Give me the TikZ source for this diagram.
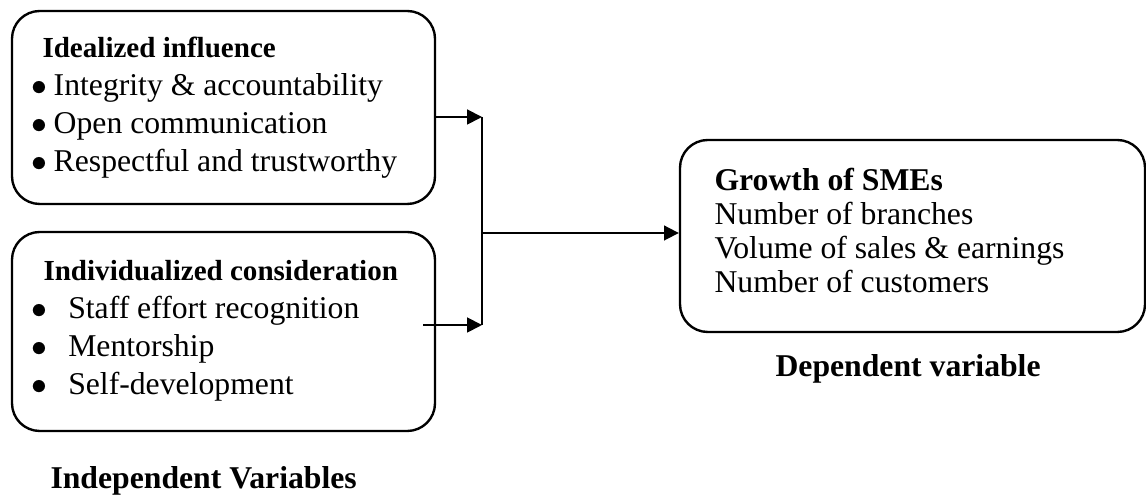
\documentclass[tikz,border=0pt]{standalone}
\usepackage{fontspec}
\setmainfont{Liberation Serif}
\usetikzlibrary{arrows.meta,positioning,fit,calc}
\tikzset{
  varbox/.style ={draw, line width=0.9pt, rounded corners=10.5pt, inner sep=0pt},
  headtxt/.style={anchor=base west, inner sep=0pt, font=\fontsize{11}{13}\selectfont\bfseries},
  itemtxt/.style={anchor=base west, inner sep=0pt, font=\fontsize{12}{14}\selectfont},
  labtxt/.style ={anchor=base west, inner sep=0pt, font=\fontsize{12}{14}\selectfont\bfseries},
  arr/.style    ={-{Triangle[length=5.6pt,width=5.6pt]}, line width=0.7pt},
}
\newcommand\blt[1]{\makebox[#1][l]{$\bullet$}}

\begin{document}
\begin{tikzpicture}[x=0.3785pt,y=-0.3785pt]
  \useasboundingbox (0,0) rectangle (1146,495);
  %% boxes
  \node[varbox, fit={(12,11) (435,204)}] (idbox) {};
  \node[varbox, fit={(12,232) (435,431)}] (icbox) {};
  \node[varbox, fit={(680,140) (1145,332)}] (gbox) {};
  %% idealized influence
  \node[headtxt] (idhead) at (42,58) {Idealized influence};
  \foreach \t [count=\i] in {Integrity \& accountability, Open communication,
                             Respectful and trustworthy}
    \node[itemtxt] (iditem\i) at (31,{58+38*\i}) {\blt{8.4pt}\t};
  %% individualized consideration
  \node[headtxt] (ichead) at (43,281) {Individualized consideration};
  \foreach \t [count=\i] in {Staff effort recognition, Mentorship, Self-development}
    \node[itemtxt] (icitem\i) at (31,{281+38*\i}) {\blt{13.9pt}\t};
  %% growth of SMEs
  \node[labtxt] (ghead) at (714,191) {Growth of SMEs};
  \foreach \t [count=\i] in {Number of branches, Volume of sales \& earnings,
                             Number of customers}
    \node[itemtxt] (gitem\i) at (714,{191+34*\i}) {\t};
  %% captions
  \node[labtxt] (indep) at (50,489) {Independent Variables};
  \node[labtxt] (dep) at (775,377) {Dependent variable};
  %% connectors
  \coordinate (jtop) at (482,117);
  \coordinate (jbot) at (482,325);
  \coordinate (jmid) at (482,233);
  \coordinate (icout) at (423,325);
  \draw[arr] (idbox.east |- jtop) -- (jtop);
  \draw[arr] (icout) -- (jbot);
  \draw[line width=0.7pt] (jtop) -- (jbot);
  \draw[arr] (jmid) -- (jmid -| gbox.west);
\end{tikzpicture}
\end{document}
